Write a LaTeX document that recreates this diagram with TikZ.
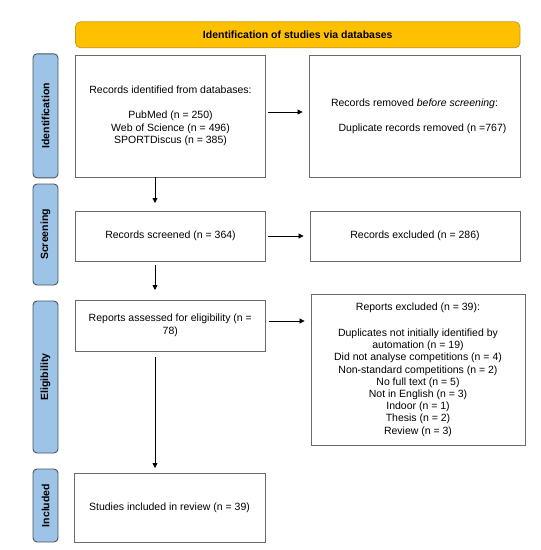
\documentclass[tikz,border=0pt]{standalone}
\usepackage{fontspec}
\setmainfont{Liberation Sans}
\usetikzlibrary{arrows.meta}
\definecolor{hdrfill}{HTML}{FFC000}
\definecolor{hdrdraw}{HTML}{C99A1A}
\definecolor{sidefill}{HTML}{9DC3E6}
\definecolor{sidedraw}{HTML}{4A5560}
\definecolor{boxdraw}{HTML}{6A6A6A}
\begin{document}
\begin{tikzpicture}[x=1pt,y=-1pt,
  box/.style={draw=boxdraw, line width=0.9pt, fill=white, inner sep=0pt,
    font=\fontsize{10.5}{12.6}\selectfont, align=center},
  sidebox/.style={draw=sidedraw, fill=sidefill, rounded corners=4pt, line width=0.9pt,
    inner sep=0pt, minimum width=25pt},
  sidetext/.style={rotate=90, font=\bfseries\fontsize{10.5}{12}\selectfont, inner sep=0pt},
  arr/.style={-{Triangle[length=5pt,width=5pt]}, line width=0.8pt, black}]
\useasboundingbox (0,0) rectangle (541,550);

% header
\node[draw=hdrdraw, fill=hdrfill, rounded corners=5pt, line width=0.8pt,
  minimum width=444.5pt, minimum height=26pt, inner sep=0pt,
  font=\bfseries\fontsize{10.5}{12}\selectfont] (hdr) at (297.75,34.8)
  {Identification of studies via databases};

% side labels
\node[sidebox, minimum height=124pt] (sIdent) at (45.5,115.8) {};
\node[sidetext] (tIdent) at (sIdent.center) {Identification};
\node[sidebox, minimum height=101pt] (sScreen) at (45.5,234.5) {};
\node[sidetext] (tScreen) at (sScreen.center) {Screening};
\node[sidebox, minimum height=152pt] (sElig) at (45.5,377) {};
\node[sidetext] (tElig) at (sElig.center) {Eligibility};
\node[sidebox, minimum height=73pt] (sIncl) at (45.5,505.5) {};
\node[sidetext] (tIncl) at (sIncl.center) {Included};

% identification
\node[box, minimum width=190pt, minimum height=122pt] (ident) at (170.5,116)
  {Records identified from databases:\\[12.6pt]
   PubMed (n = 250)\\ Web of Science (n = 496)\\ SPORTDiscus (n = 385)};
\node[box, minimum width=211pt, minimum height=122pt] (removed) at (414.5,116)
  {Records removed \emph{before screening}:\\[12.6pt]
   \hspace*{16pt}Duplicate records removed (n =767)};

% screening
\node[box, minimum width=190pt, minimum height=50pt] (screened) at (170.5,236)
  {Records screened (n = 364)};
\node[box, minimum width=210pt, minimum height=50pt] (excl1) at (415,236)
  {Records excluded (n = 286)};

% eligibility
\node[box, minimum width=189.5pt, minimum height=51pt] (assessed) at (170.3,325.5)
  {Reports assessed for eligibility (n =\\78)};
\node[box, minimum width=214pt, minimum height=151pt, font=\fontsize{10.5}{12.2}\selectfont] (excl2) at (418,369.5)
  {Reports excluded (n = 39):\\[14pt]
   Duplicates not initially identified by\\ automation (n = 19)\\
   Did not analyse competitions (n = 4)\\ Non-standard competitions (n = 2)\\
   No full text (n = 5)\\ Not in English (n = 3)\\ Indoor (n = 1)\\
   Thesis (n = 2)\\ Review (n = 3)};

% included
\node[box, minimum width=191pt, minimum height=69pt] (incl) at (169.5,507.5)
  {Studies included in review (n = 39)};

% arrows
\draw[arr] ([xshift=2pt]ident.east |- 0,112) -- ([xshift=-6pt]removed.west |- 0,112);
\draw[arr] ([xshift=2pt]screened.east) -- ([xshift=-6pt]excl1.west);
\draw[arr] ([xshift=3pt]assessed.east |- 0,321) -- ([xshift=-6pt]excl2.west |- 0,321);
\draw[arr] (155,177) -- (155,203);
\draw[arr] (155,265) -- (155,290);
\draw[arr] (155,357) -- (155,468);
\end{tikzpicture}
\end{document}
